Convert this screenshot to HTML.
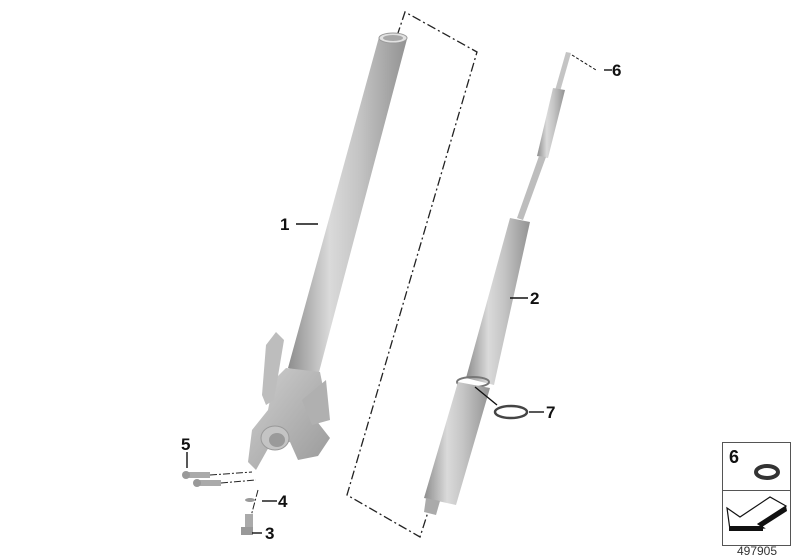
<!DOCTYPE html>
<html><head><meta charset="utf-8"><style>
html,body{margin:0;padding:0;background:#fff;}
svg{display:block;}
text{font-family:"Liberation Sans",Arial,sans-serif;}
</style></head><body>
<svg width="800" height="560" viewBox="0 0 800 560" xmlns="http://www.w3.org/2000/svg">
<defs>
<linearGradient id="g1" x1="0" y1="0" x2="1" y2="0">
<stop offset="0" stop-color="#8d8d8d"/><stop offset="0.35" stop-color="#dadada"/><stop offset="0.6" stop-color="#c4c4c4"/><stop offset="1" stop-color="#929292"/>
</linearGradient>
<linearGradient id="g2" x1="0" y1="0" x2="1" y2="1">
<stop offset="0" stop-color="#d0d0d0"/><stop offset="1" stop-color="#999"/>
</linearGradient>
</defs>
<g fill="none" stroke="#222" stroke-width="1.3" stroke-dasharray="9,3,2,3">
<polyline points="397,36 405,12 477,52 347,495 420,537 428,512"/>
</g>
<!-- tube 1 -->
<polygon points="379,37 407,39 318,376 288,368" fill="url(#g1)"/>
<ellipse cx="393" cy="38" rx="14" ry="5" fill="#e2e2e2" stroke="#999"/>
<ellipse cx="393" cy="38" rx="10" ry="3" fill="#a8a8a8"/>
<!-- lower bracket -->
<polygon points="286,368 320,372 324,392 312,415 330,438 318,456 298,460 290,442 270,445 256,470 248,462 252,430 268,410 274,380" fill="url(#g2)"/>
<polygon points="302,400 326,380 330,420 312,425" fill="#b0b0b0"/>
<polygon points="266,345 276,332 284,340 274,400 266,405 262,395" fill="#bdbdbd"/>
<ellipse cx="275" cy="438" rx="14" ry="12" fill="#c4c4c4" stroke="#999"/>
<ellipse cx="277" cy="440" rx="8" ry="7" fill="#9a9a9a"/>
<!-- screws 5 -->
<rect x="186" y="472" width="24" height="6" fill="#aaa"/><circle cx="186" cy="475" r="4" fill="#999"/>
<rect x="197" y="480" width="24" height="6" fill="#aaa"/><circle cx="197" cy="483" r="4" fill="#999"/>
<g stroke="#222" stroke-width="1" stroke-dasharray="7,2,2,2"><line x1="210" y1="475" x2="252" y2="472"/><line x1="221" y1="483" x2="256" y2="480"/><line x1="258" y1="490" x2="250" y2="520"/></g>
<ellipse cx="250" cy="500" rx="5" ry="2" fill="#999"/>
<rect x="245" y="514" width="8" height="14" fill="#aaa"/><rect x="241" y="527" width="12" height="8" fill="#999"/>
<!-- damper 2 -->
<polygon points="566,52 571,53 559,95 554,94" fill="#c4c4c4"/>
<polygon points="553,88 565,90 548,158 537,156" fill="url(#g1)"/>
<polygon points="539,156 546,157 523,220 517,218" fill="#bdbdbd"/>
<polygon points="510,218 530,222 494,385 466,378" fill="url(#g1)"/>
<ellipse cx="473" cy="382" rx="16" ry="5" fill="none" stroke="#777" stroke-width="2"/>
<polygon points="458,382 490,388 456,505 424,498" fill="url(#g1)"/>
<polygon points="426,498 440,501 436,515 424,512" fill="#aaa"/>
<ellipse cx="511" cy="412" rx="16" ry="6" fill="none" stroke="#444" stroke-width="2.5"/>
<!-- leader lines -->
<g stroke="#111" stroke-width="1.4">
<line x1="296" y1="224" x2="318" y2="224"/>
<line x1="510" y1="298" x2="528" y2="298"/>
<line x1="604" y1="70" x2="612" y2="70"/>
<line x1="529" y1="412" x2="544" y2="412"/>
<line x1="187" y1="452" x2="187" y2="468"/>
<line x1="262" y1="501" x2="277" y2="501"/>
<line x1="252" y1="533" x2="262" y2="533"/>
<line x1="475" y1="387" x2="497" y2="405"/>
</g>
<line x1="572" y1="55" x2="596" y2="70" stroke="#111" stroke-dasharray="3,2"/>
<g font-size="17" font-weight="bold" fill="#111">
<text x="280" y="230">1</text><text x="530" y="304">2</text><text x="612" y="76">6</text>
<text x="546" y="418">7</text><text x="181" y="450">5</text><text x="278" y="507">4</text><text x="265" y="539">3</text>
</g>
<!-- legend -->
<rect x="722.5" y="442.5" width="68" height="103" fill="#fff" stroke="#555"/>
<line x1="722.5" y1="490.5" x2="790.5" y2="490.5" stroke="#555"/>
<text x="729" y="463" font-size="18" font-weight="bold" fill="#111">6</text>
<ellipse cx="767" cy="472" rx="11" ry="6" fill="none" stroke="#333" stroke-width="4"/>
<polygon points="727,508 740,517 770,497 786,506 758,524 764,528 730,530" fill="#fff" stroke="#111" stroke-width="1.2"/>
<polygon points="729,526 763,526 763,531 729,531" fill="#111"/>
<polygon points="786,506 787,511 762,527 758,524" fill="#111"/>
<text x="757" y="555" font-size="12" fill="#333" text-anchor="middle">497905</text>
</svg>
</body></html>
